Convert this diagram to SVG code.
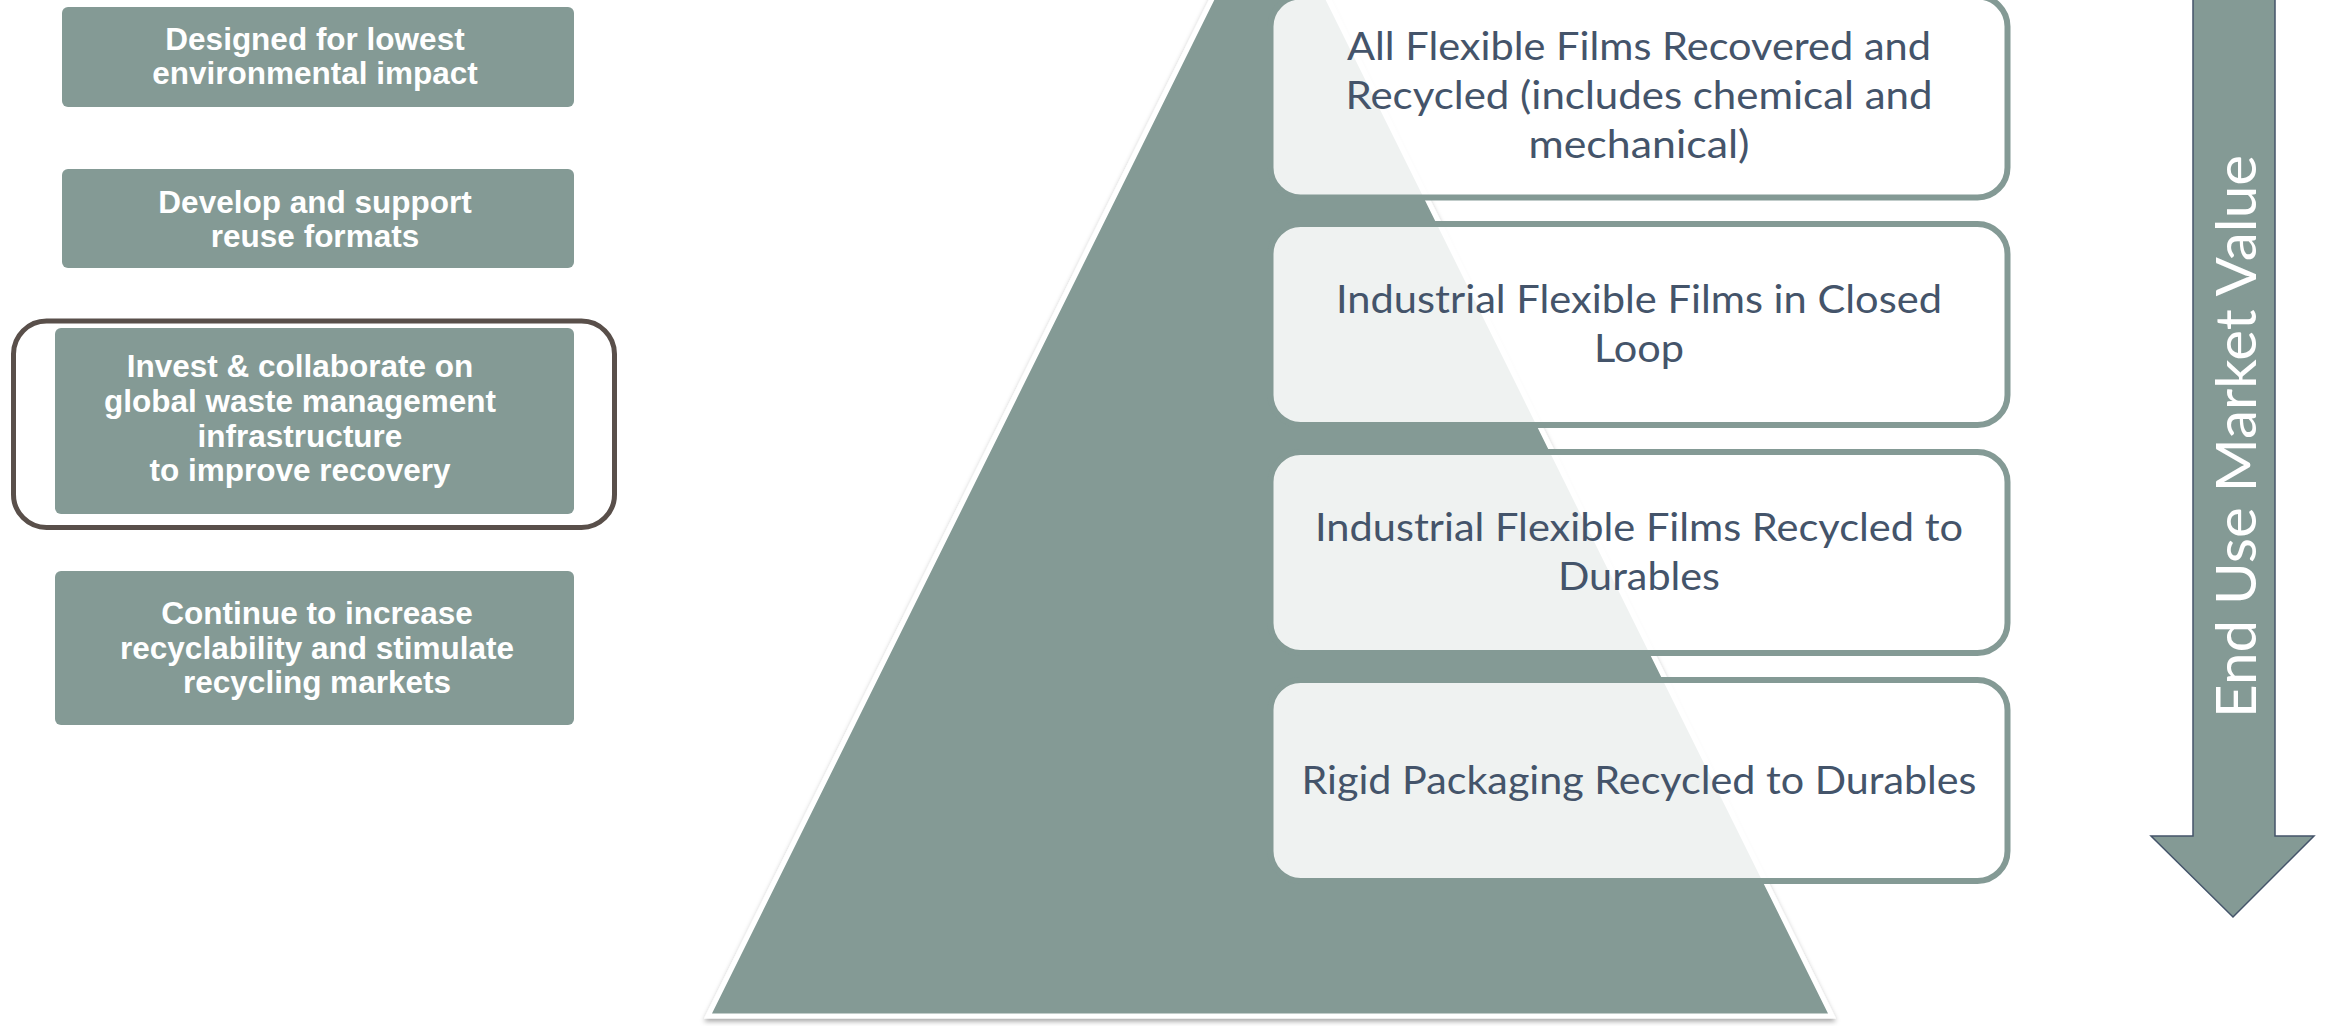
<svg xmlns="http://www.w3.org/2000/svg" width="2326" height="1026" viewBox="0 0 2326 1026">
<defs>
<style>
.lbox{fill:#849a95}
.ltxt{font-family:"Liberation Sans",Arial,sans-serif;font-weight:bold;font-size:31.5px;fill:#ffffff;text-anchor:middle}
.rbox{fill:#ffffff;fill-opacity:0.87;stroke:#849a95;stroke-width:6}
.rtxt{font-family:Lato,"Open Sans",sans-serif;font-size:38px;fill:#44546a;text-anchor:middle}
.atxt{font-family:Lato,"Open Sans",sans-serif;font-weight:400;font-size:56px;fill:#ffffff}
</style>
<filter id="sh" x="-10%" y="-10%" width="120%" height="120%">
<feDropShadow dx="0" dy="3" stdDeviation="2.5" flood-color="#000000" flood-opacity="0.35"/>
</filter>
</defs>
<rect width="2326" height="1026" fill="#ffffff"/>

<g id="left-box-1">
<rect class="lbox" x="62" y="7" width="512" height="100" rx="6"/>
<text class="ltxt"><tspan x="315" y="50">Designed for lowest</tspan><tspan x="315" y="84">environmental impact</tspan></text>
</g>
<g id="left-box-2">
<rect class="lbox" x="62" y="169" width="512" height="99" rx="6"/>
<text class="ltxt"><tspan x="315" y="213">Develop and support</tspan><tspan x="315" y="247">reuse formats</tspan></text>
</g>
<g id="left-box-3">
<rect x="13.5" y="321" width="601" height="206.5" rx="33" fill="#ffffff" stroke="#594f4a" stroke-width="5"/>
<rect class="lbox" x="55" y="328" width="519" height="186" rx="6"/>
<text class="ltxt"><tspan x="300" y="377">Invest &amp; collaborate on</tspan><tspan x="300" y="412">global waste management</tspan><tspan x="300" y="447">infrastructure</tspan><tspan x="300" y="481">to improve recovery</tspan></text>
</g>
<g id="left-box-4">
<rect class="lbox" x="55" y="571" width="519" height="154" rx="6"/>
<text class="ltxt"><tspan x="317" y="624">Continue to increase</tspan><tspan x="317" y="659">recyclability and stimulate</tspan><tspan x="317" y="693">recycling markets</tspan></text>
</g>

<g id="pyramid">
<polygon points="1270,-118 708,1016 1832,1016" fill="#849a95" stroke="#ffffff" stroke-width="5" filter="url(#sh)"/>
</g>

<g id="level-1">
<rect class="rbox" x="1270.5" y="-3.5" width="737" height="201" rx="30"/>
<text class="rtxt" x="1639" y="60" textLength="584" lengthAdjust="spacingAndGlyphs">All Flexible Films Recovered and</text>
<text class="rtxt" x="1639" y="109" textLength="587" lengthAdjust="spacingAndGlyphs">Recycled (includes chemical and</text>
<text class="rtxt" x="1639" y="158" textLength="221" lengthAdjust="spacingAndGlyphs">mechanical)</text>
</g>
<g id="level-2">
<rect class="rbox" x="1270.5" y="224" width="737" height="201" rx="30"/>
<text class="rtxt" x="1639" y="313" textLength="606" lengthAdjust="spacingAndGlyphs">Industrial Flexible Films in Closed</text>
<text class="rtxt" x="1639" y="362" textLength="90" lengthAdjust="spacingAndGlyphs">Loop</text>
</g>
<g id="level-3">
<rect class="rbox" x="1270.5" y="452" width="737" height="201" rx="30"/>
<text class="rtxt" x="1639" y="541" textLength="648" lengthAdjust="spacingAndGlyphs">Industrial Flexible Films Recycled to</text>
<text class="rtxt" x="1639" y="590" textLength="162" lengthAdjust="spacingAndGlyphs">Durables</text>
</g>
<g id="level-4">
<rect class="rbox" x="1270.5" y="680" width="737" height="201" rx="30"/>
<text class="rtxt" x="1639" y="794" textLength="675" lengthAdjust="spacingAndGlyphs">Rigid Packaging Recycled to Durables</text>
</g>

<g id="value-arrow">
<polygon points="2193,-5 2275,-5 2275,836 2314,836 2233,917 2151,836 2193,836" fill="#849a95" stroke="#44546a" stroke-width="1.5"/>
<text class="atxt" transform="translate(2256,718) rotate(-90)" x="0" y="0" textLength="563" lengthAdjust="spacingAndGlyphs">End Use Market Value</text>
</g>

<g id="connectors"></g>
</svg>
